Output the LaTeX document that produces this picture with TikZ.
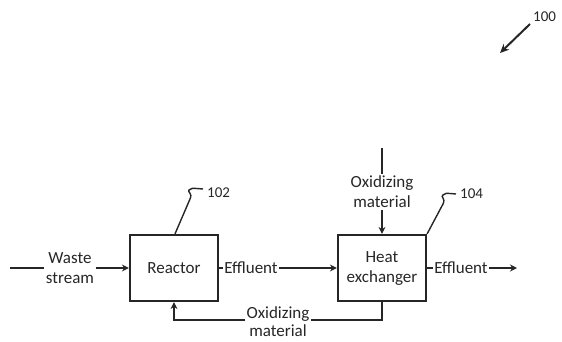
\documentclass[tikz,border=0pt]{standalone}
\usepackage{fontspec}
\setmainfont{Carlito}
\usetikzlibrary{arrows.meta}
\begin{document}
\begin{tikzpicture}[x=1pt,y=-1pt,
  every node/.style={font=\fontsize{17}{20}\selectfont, text=black!85},
  blk/.style={draw=black!85, line width=2.2pt, minimum width=88pt, minimum height=66pt, align=center, inner sep=0pt},
  lbl/.style={align=center, inner sep=1.5pt},
  flow/.style={draw=black!85, line width=1.6pt},
  arr/.style={flow, -{Stealth[length=7pt,width=7pt]}},
  lead/.style={draw=black!85, line width=1.4pt},
  num/.style={font=\fontsize{15}{16}\selectfont, anchor=west, inner sep=0pt}]
\useasboundingbox (0,0) rectangle (562,341);
\node[blk] (reactor) at (174,268) {Reactor};
\node[blk] (hx) at (382,268) {Heat\\exchanger};
\node[lbl] (waste) at (70,268) {Waste\\stream};
\coordinate (wstart) at (10,268);
\node[lbl, inner sep=1pt] (eff1) at (251,268) {Effluent};
\node[lbl, inner sep=1pt] (eff2) at (461,268) {Effluent};
\coordinate (effend) at (517,268);
\node[lbl] (ox1) at (382,192) {Oxidizing\\material};
\coordinate (oxtop) at (382,148);
\node[lbl, inner sep=1pt, font=\fontsize{17}{18}\selectfont] (ox2) at (278,322) {Oxidizing\\material};
\path[flow] (wstart) -- (waste.west);
\path[arr] (waste.east) -- (reactor.west);
\path[flow] (reactor.east) -- (eff1.west);
\path[arr] (eff1.east) -- (hx.west);
\path[flow] (hx.east) -- (eff2.west);
\path[arr] (eff2.east) -- (effend);
\path[flow] (oxtop) -- (ox1.north);
\path[arr] (ox1.south) -- (hx.north);
\path[flow] (hx.south) |- ([yshift=2pt]ox2.east);
\path[arr] ([yshift=2pt]ox2.west) -| (reactor.south);
% leaders
\coordinate (l102) at (203,189);
\node[num] (n102) at (207,193) {102};
\path[lead] ([xshift=1pt]reactor.north) -- (190,199) .. controls (193,193) and (187,192) .. (189,190) .. controls (191,188) .. (l102);
\coordinate (l104) at (456,194);
\node[num] (n104) at (460,194) {104};
\path[lead] (hx.north east) -- (443,204) .. controls (446,198) and (440,197) .. (443,195) .. controls (445,193) .. (l104);
\node[num] (n100) at (533,17) {100};
\coordinate (a100) at (530,24);
\coordinate (b100) at (500,53);
\path[lead, line width=2pt, -{Stealth[length=9pt,width=8pt]}] (a100) -- (b100);
\end{tikzpicture}
\end{document}
